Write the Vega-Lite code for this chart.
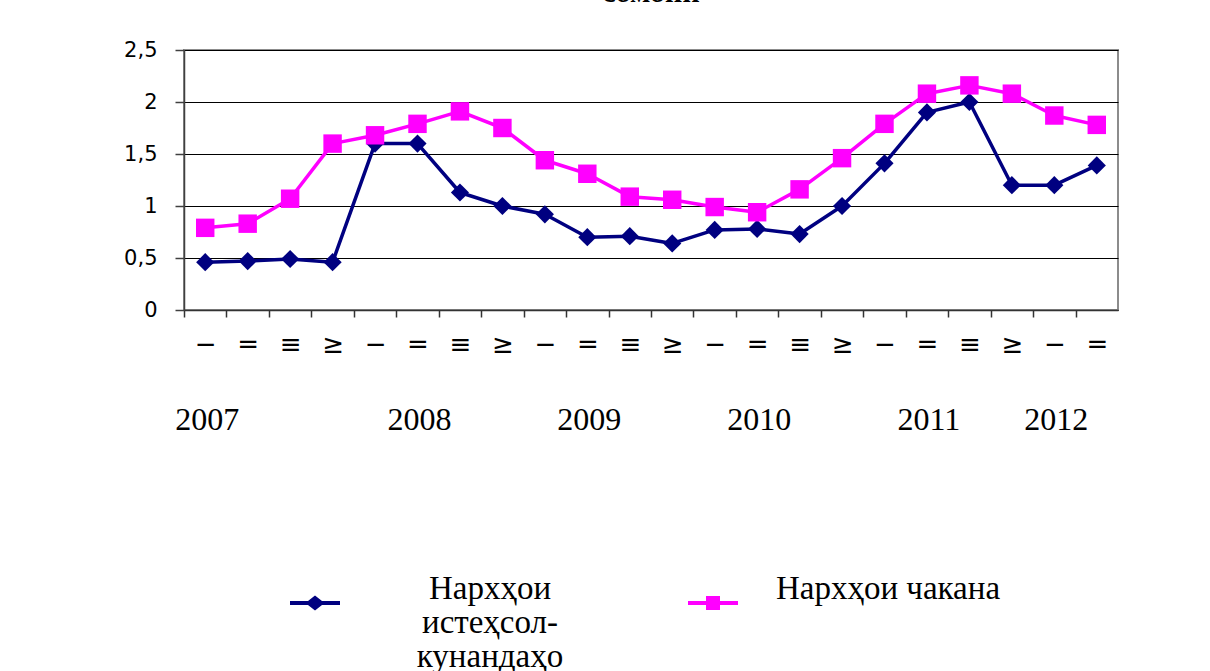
{
  "$schema": "https://vega.github.io/schema/vega-lite/v6.json",
  "width": 934,
  "height": 260,
  "autosize": {"type": "none"},
  "padding": {"left": 184, "top": 50, "right": 92, "bottom": 361},
  "background": "white",
  "title": {"text": "сомонӣ", "font": "Liberation Serif", "fontSize": 30, "fontWeight": "bold", "color": "black", "anchor": "middle", "offset": 31},
  "config": {
    "view": {"stroke": "#8c8c8c", "strokeWidth": 2},
    "axis": {"labelColor": "black"}
  },
  "datasets": {
    "d": [
      {"q": "2007-I", "s": "Нархҳои истеҳсолкунандаҳо", "v": 0.46},
      {"q": "2007-II", "s": "Нархҳои истеҳсолкунандаҳо", "v": 0.47},
      {"q": "2007-III", "s": "Нархҳои истеҳсолкунандаҳо", "v": 0.49},
      {"q": "2007-IV", "s": "Нархҳои истеҳсолкунандаҳо", "v": 0.46},
      {"q": "2008-I", "s": "Нархҳои истеҳсолкунандаҳо", "v": 1.6},
      {"q": "2008-II", "s": "Нархҳои истеҳсолкунандаҳо", "v": 1.6},
      {"q": "2008-III", "s": "Нархҳои истеҳсолкунандаҳо", "v": 1.13},
      {"q": "2008-IV", "s": "Нархҳои истеҳсолкунандаҳо", "v": 1.0},
      {"q": "2009-I", "s": "Нархҳои истеҳсолкунандаҳо", "v": 0.92},
      {"q": "2009-II", "s": "Нархҳои истеҳсолкунандаҳо", "v": 0.7},
      {"q": "2009-III", "s": "Нархҳои истеҳсолкунандаҳо", "v": 0.71},
      {"q": "2009-IV", "s": "Нархҳои истеҳсолкунандаҳо", "v": 0.64},
      {"q": "2010-I", "s": "Нархҳои истеҳсолкунандаҳо", "v": 0.77},
      {"q": "2010-II", "s": "Нархҳои истеҳсолкунандаҳо", "v": 0.78},
      {"q": "2010-III", "s": "Нархҳои истеҳсолкунандаҳо", "v": 0.73},
      {"q": "2010-IV", "s": "Нархҳои истеҳсолкунандаҳо", "v": 1.0},
      {"q": "2011-I", "s": "Нархҳои истеҳсолкунандаҳо", "v": 1.41},
      {"q": "2011-II", "s": "Нархҳои истеҳсолкунандаҳо", "v": 1.9},
      {"q": "2011-III", "s": "Нархҳои истеҳсолкунандаҳо", "v": 2.0},
      {"q": "2011-IV", "s": "Нархҳои истеҳсолкунандаҳо", "v": 1.2},
      {"q": "2012-I", "s": "Нархҳои истеҳсолкунандаҳо", "v": 1.2},
      {"q": "2012-II", "s": "Нархҳои истеҳсолкунандаҳо", "v": 1.39},
      {"q": "2007-I", "s": "Нархҳои чакана", "v": 0.79},
      {"q": "2007-II", "s": "Нархҳои чакана", "v": 0.83},
      {"q": "2007-III", "s": "Нархҳои чакана", "v": 1.07},
      {"q": "2007-IV", "s": "Нархҳои чакана", "v": 1.6},
      {"q": "2008-I", "s": "Нархҳои чакана", "v": 1.68},
      {"q": "2008-II", "s": "Нархҳои чакана", "v": 1.79},
      {"q": "2008-III", "s": "Нархҳои чакана", "v": 1.91},
      {"q": "2008-IV", "s": "Нархҳои чакана", "v": 1.75},
      {"q": "2009-I", "s": "Нархҳои чакана", "v": 1.44},
      {"q": "2009-II", "s": "Нархҳои чакана", "v": 1.31},
      {"q": "2009-III", "s": "Нархҳои чакана", "v": 1.09},
      {"q": "2009-IV", "s": "Нархҳои чакана", "v": 1.06},
      {"q": "2010-I", "s": "Нархҳои чакана", "v": 0.99},
      {"q": "2010-II", "s": "Нархҳои чакана", "v": 0.94},
      {"q": "2010-III", "s": "Нархҳои чакана", "v": 1.16},
      {"q": "2010-IV", "s": "Нархҳои чакана", "v": 1.46},
      {"q": "2011-I", "s": "Нархҳои чакана", "v": 1.79},
      {"q": "2011-II", "s": "Нархҳои чакана", "v": 2.08},
      {"q": "2011-III", "s": "Нархҳои чакана", "v": 2.16},
      {"q": "2011-IV", "s": "Нархҳои чакана", "v": 2.08},
      {"q": "2012-I", "s": "Нархҳои чакана", "v": 1.87},
      {"q": "2012-II", "s": "Нархҳои чакана", "v": 1.78}
    ],
    "yrs": [
      {"q": "2007-I", "t": "2007"},
      {"q": "2008-II", "t": "2008"},
      {"q": "2009-II", "t": "2009"},
      {"q": "2010-II", "t": "2010"},
      {"q": "2011-II", "t": "2011"},
      {"q": "2012-I", "t": "2012"}
    ]
  },
  "data": {"name": "d"},
  "layer": [
    {
      "mark": {"type": "line", "strokeWidth": 3.5, "strokeJoin": "round"},
      "encoding": {
        "x": {
          "field": "q", "type": "ordinal", "sort": null,
          "scale": {"type": "point", "padding": 0.5},
          "axis": {
            "title": null, "grid": false,
            "domainColor": "#333333", "domainWidth": 1.5,
            "tickColor": "#333333", "tickWidth": 1.5, "tickSize": 7,
            "tickOffset": -21.23, "labelOffset": 21.23,
            "labelAngle": 0, "labelFont": "DejaVu Sans", "labelFontSize": 26,
            "labelPadding": 14, "labelOverlap": false, "labelFlush": false,
            "labelExpr": "indexof(datum.value,'-IV')>0 ? '≥' : indexof(datum.value,'-III')>0 ? '≡' : indexof(datum.value,'-II')>0 ? '=' : '−'"
          }
        },
        "y": {
          "field": "v", "type": "quantitative",
          "scale": {"domain": [0, 2.5], "nice": false},
          "axis": {
            "title": null, "values": [0, 0.5, 1, 1.5, 2, 2.5],
            "grid": true, "gridColor": "#000000",
            "gridWidth": 1,
            "domainColor": "#404040", "domainWidth": 1.5,
            "tickColor": "#404040", "tickWidth": 1.5, "tickSize": 9,
            "labelFont": "DejaVu Sans", "labelFontSize": 21, "labelPadding": 18,
            "labelExpr": "replace(format(datum.value, '~g'), '.', ',')"
          }
        },
        "color": {
          "field": "s", "type": "nominal",
          "scale": {"domain": ["Нархҳои истеҳсолкунандаҳо", "Нархҳои чакана"], "range": ["#000080", "#ff00ff"]},
          "legend": {
            "orient": "none", "legendX": 106, "legendY": 528,
            "direction": "horizontal", "title": null, "padding": 0,
            "symbolSize": 2500, "symbolStrokeWidth": 0,
            "labelFont": "Liberation Serif", "labelFontSize": 33, "labelColor": "black",
            "labelAlign": "center", "labelBaseline": "top", "labelOffset": 150, "labelLimit": 1000,
            "columnPadding": 124,
            "labelExpr": "datum.value == 'Нархҳои истеҳсолкунандаҳо' ? ['Нархҳои', 'истеҳсол-', 'кунандаҳо'] : [datum.label, ' ', ' ']",
            "encode": {
              "symbols": {"update": {
                "shape": {"signal": "datum.value == 'Нархҳои чакана' ? 'M-1,-0.08H-0.28V-0.28H0.28V-0.08H1V0.08H0.28V0.28H-0.28V0.08H-1Z' : 'M-1,-0.08H-0.28L0,-0.3L0.28,-0.08H1V0.08H0.28L0,0.3L-0.28,0.08H-1Z'"},
                "fill": {"signal": "datum.value == 'Нархҳои чакана' ? '#ff00ff' : '#000080'"},
                "strokeWidth": {"value": 0},
                "opacity": {"value": 1}
              }},
              "labels": {"update": {"lineHeight": {"value": 34}, "dy": {"value": -30}}}
            }
          }
        }
      }
    },
    {
      "transform": [{"filter": "datum.s == 'Нархҳои истеҳсолкунандаҳо'"}],
      "mark": {"type": "point", "shape": "diamond", "filled": true, "opacity": 1, "size": 330},
      "encoding": {
        "x": {"field": "q", "type": "ordinal", "sort": null},
        "y": {"field": "v", "type": "quantitative"},
        "color": {"field": "s", "type": "nominal"}
      }
    },
    {
      "transform": [{"filter": "datum.s == 'Нархҳои чакана'"}],
      "mark": {"type": "point", "shape": "square", "filled": true, "opacity": 1, "size": 340},
      "encoding": {
        "x": {"field": "q", "type": "ordinal", "sort": null},
        "y": {"field": "v", "type": "quantitative"},
        "color": {"field": "s", "type": "nominal"}
      }
    },
    {
      "data": {"name": "yrs"},
      "mark": {"type": "text", "font": "Liberation Serif", "fontSize": 32, "color": "black", "baseline": "alphabetic", "align": "center", "dx": 2},
      "encoding": {
        "x": {"field": "q", "type": "ordinal", "sort": null},
        "y": {"datum": -1.154, "type": "quantitative"},
        "text": {"field": "t"}
      }
    }
  ]
}
